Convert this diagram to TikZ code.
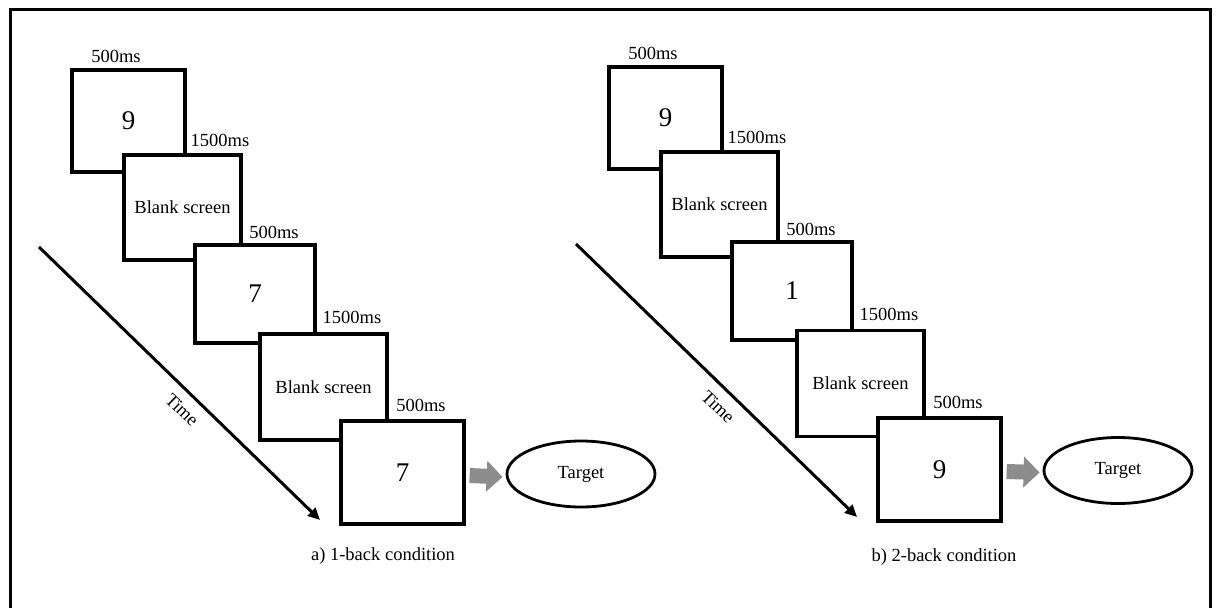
\documentclass[tikz,border=0pt]{standalone}
\usepackage{fontspec}
\setmainfont{Liberation Serif}
\usetikzlibrary{arrows.meta,shapes.geometric}
\begin{document}
\begin{tikzpicture}[x=1pt,y=-1pt,
  screen/.style={draw=black,line width=3.3pt,fill=white,rectangle,inner sep=0pt},
  digit/.style={font=\fontsize{27}{30}\selectfont},
  txt/.style={font=\fontsize{18.5}{20}\selectfont,inner sep=0pt},
  target/.style={draw=black,line width=2.8pt,ellipse,minimum width=148pt,minimum height=66pt,inner sep=0pt,font=\fontsize{18.5}{20}\selectfont},
  timearrow/.style={line width=3pt,-{Triangle[length=12pt,width=11pt]}},
  goarrow/.style={line width=15pt,color=black!45,-{Triangle[length=16pt,width=30pt]}},
  frame/.style={draw=black,line width=3.2pt}
]
\clip (0,0) rectangle (1216,608);
\fill[white] (0,0) rectangle (1216,608);
\draw[frame] (10.5,9.5) rectangle (1210.5,640);

% ---------- left panel ----------
\node[screen,digit,minimum width=113pt,minimum height=102pt] (a1) at (128.5,121) {9};
\node[screen,txt,minimum width=117pt,minimum height=105pt] (a2) at (182.5,207.5) {Blank screen};
\node[screen,digit,minimum width=120pt,minimum height=98pt] (a3) at (255,294) {7};
\node[screen,txt,minimum width=127pt,minimum height=106pt] (a4) at (323.5,387) {Blank screen};
\node[screen,digit,minimum width=123pt,minimum height=103pt] (a5) at (402.5,472.5) {7};

\node[txt] (la1) at (116,56) {500ms};
\node[txt] (la2) at (220,140) {1500ms};
\node[txt] (la3) at (274,232) {500ms};
\node[txt] (la4) at (352,317) {1500ms};
\node[txt] (la5) at (421,405) {500ms};

\node[target] (ae) at (581,474) {Target};
\draw[goarrow] ([xshift=4pt,yshift=-3pt]a5.east) -- ([xshift=-3pt,yshift=-3pt]ae.west);

\coordinate (ta1) at (39,247);
\coordinate (ta2) at (320,520);
\draw[timearrow] (ta1) -- (ta2);
\node[txt,rotate=-44] (tla) at (182,410) {Time};

\node[txt] (capa) at (383,556) {a) 1-back condition};

% ---------- right panel ----------
\node[screen,digit,minimum width=113pt,minimum height=102pt] (b1) at (665.5,118) {9};
\node[screen,txt,minimum width=117pt,minimum height=105pt] (b2) at (719.5,204.5) {Blank screen};
\node[screen,digit,minimum width=120pt,minimum height=98pt] (b3) at (792,291) {1};
\node[screen,txt,minimum width=127pt,minimum height=106pt] (b4) at (860.5,383.5) {Blank screen};
\node[screen,digit,minimum width=123pt,minimum height=103pt] (b5) at (939.5,469.5) {9};

\node[txt] (lb1) at (653,53) {500ms};
\node[txt] (lb2) at (757,137) {1500ms};
\node[txt] (lb3) at (811,229) {500ms};
\node[txt] (lb4) at (889,314) {1500ms};
\node[txt] (lb5) at (958,402) {500ms};

\node[target] (be) at (1118,470.5) {Target};
\draw[goarrow] ([xshift=4pt,yshift=-2pt]b5.east) -- ([xshift=-3pt,yshift=-2pt]be.west);

\coordinate (tb1) at (576,244);
\coordinate (tb2) at (857,517);
\draw[timearrow] (tb1) -- (tb2);
\node[txt,rotate=-44] (tlb) at (718,407) {Time};

\node[txt] (capb) at (944,557) {b) 2-back condition};
\end{tikzpicture}
\end{document}
